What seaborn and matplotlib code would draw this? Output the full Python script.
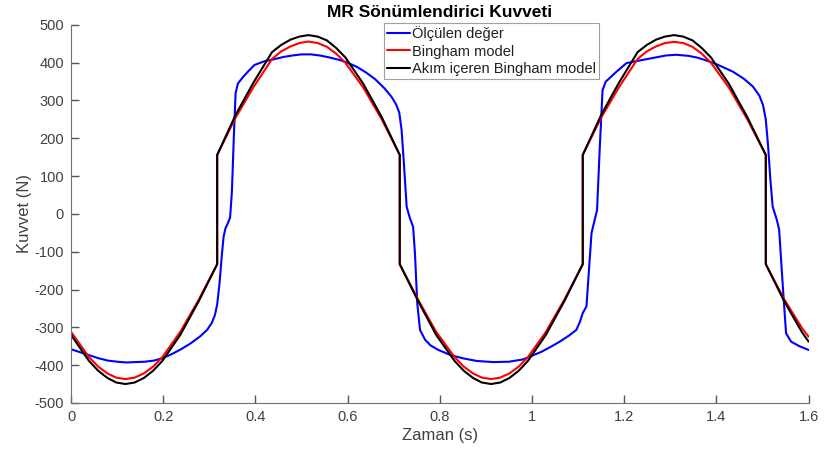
import matplotlib
matplotlib.use("Agg")
import matplotlib.pyplot as plt
import pandas as pd
import seaborn as sns
from matplotlib.ticker import FuncFormatter

# Bingham model curves (red) and current-dependent Bingham model (black)
t_model = [0.0, 0.039, 0.059, 0.079, 0.098, 0.118, 0.138, 0.158, 0.178, 0.198, 0.237, 0.277, 0.317,
           0.317, 0.357, 0.396, 0.436, 0.456, 0.476, 0.495, 0.515, 0.535, 0.555, 0.575, 0.595,
           0.634, 0.674, 0.713,
           0.713, 0.753, 0.792, 0.832, 0.852, 0.872, 0.891, 0.911, 0.931, 0.951, 0.971, 0.991,
           1.030, 1.070, 1.110,
           1.110, 1.150, 1.189, 1.229, 1.249, 1.269, 1.288, 1.308, 1.328, 1.348, 1.368, 1.388,
           1.427, 1.467, 1.507,
           1.507, 1.547, 1.586, 1.600]
f_bingham = [-312, -379, -404, -422, -433, -437, -433, -422, -404, -379, -312, -227, -133,
             156, 255, 336, 410, 430, 443, 452, 456, 452, 442, 424, 400,
             334, 250, 156,
             -133, -227, -312, -379, -404, -422, -433, -437, -433, -422, -404, -379,
             -312, -227, -133,
             156, 255, 336, 410, 430, 443, 452, 455, 452, 442, 424, 400,
             334, 250, 156,
             -133, -226, -303, -325]
f_bingham_akim = [-320, -389, -415, -434, -446, -450, -446, -434, -415, -389, -320, -231, -133,
                  156, 262, 348, 428, 447, 461, 469, 473, 469, 459, 439, 414,
                  344, 256, 156,
                  -133, -231, -320, -389, -415, -434, -446, -450, -446, -434, -415, -389,
                  -320, -231, -133,
                  156, 262, 348, 428, 447, 461, 469, 473, 469, 459, 439, 414,
                  344, 256, 156,
                  -133, -231, -314, -338]

# measured force (blue)
t_meas = [0.000, 0.020, 0.040, 0.060, 0.080, 0.100, 0.120, 0.140, 0.160, 0.180,
          0.200, 0.220, 0.240, 0.260, 0.280, 0.295, 0.305, 0.312, 0.317, 0.322,
          0.327, 0.331, 0.335, 0.340, 0.345, 0.349, 0.353, 0.357, 0.362, 0.373,
          0.385, 0.398, 0.420, 0.440, 0.460, 0.480, 0.500, 0.520, 0.540, 0.560,
          0.580, 0.600, 0.620, 0.640, 0.660, 0.680, 0.695, 0.705, 0.712, 0.717,
          0.722, 0.728, 0.735, 0.742, 0.746, 0.751, 0.757, 0.768, 0.780, 0.797,
          0.822, 0.850, 0.880, 0.916, 0.950, 0.980, 1.000, 1.020, 1.040, 1.060,
          1.080, 1.096, 1.104, 1.110, 1.118, 1.123, 1.129, 1.134, 1.141, 1.147,
          1.153, 1.160, 1.183, 1.205, 1.230, 1.260, 1.290, 1.313, 1.340, 1.360,
          1.380, 1.400, 1.420, 1.436, 1.460, 1.479, 1.493, 1.501, 1.507, 1.512,
          1.517, 1.522, 1.531, 1.536, 1.544, 1.551, 1.562, 1.580, 1.600]
f_meas = [-358, -366, -374, -382, -388, -391, -393, -392, -391, -388,
          -381, -370, -357, -342, -324, -307, -289, -268, -240, -185,
          -110, -60, -38, -25, -10, 60, 200, 320, 345, 362,
          378, 394, 404, 409, 415, 419, 422, 422, 419, 414,
          408, 400, 389, 374, 356, 332, 310, 290, 268, 222,
          134, 19, -11, -34, -104, -236, -307, -333, -348, -360,
          -373, -382, -389, -392, -391, -385, -375, -365, -352, -338,
          -322, -307, -285, -262, -245, -157, -51, -25, 10, 178,
          328, 350, 376, 399, 405, 412, 419, 421, 418, 413,
          405, 396, 385, 376, 357, 337, 313, 288, 250, 180,
          90, 19, -16, -42, -192, -316, -338, -350, -360]

labels = ["Ölçülen değer", "Bingham model", "Akım içeren Bingham model"]
colors = ["#0000FF", "#FF0000", "#000000"]

sns.set_style("ticks")
plt.rcParams["font.family"] = ["Liberation Sans", "DejaVu Sans"]
plt.rcParams["axes.unicode_minus"] = False

fig = plt.figure(figsize=(8.26, 4.61), dpi=100)
ax = fig.add_axes([0.086, 0.126, 0.893, 0.82])

sns.lineplot(x=t_meas, y=f_meas, ax=ax, color=colors[0], lw=1.5,
             sort=False, estimator=None, label=labels[0])
sns.lineplot(x=t_model, y=f_bingham, ax=ax, color=colors[1], lw=1.5,
             sort=False, estimator=None, label=labels[1])
sns.lineplot(x=t_model, y=f_bingham_akim, ax=ax, color=colors[2], lw=1.5,
             sort=False, estimator=None, label=labels[2])

ax.set_xlim(0, 1.6)
ax.set_ylim(-500, 500)
ax.set_xticks([0, 0.2, 0.4, 0.6, 0.8, 1.0, 1.2, 1.4, 1.6])
ax.set_yticks(range(-500, 501, 100))
ax.xaxis.set_major_formatter(FuncFormatter(lambda v, p: "%g" % round(v, 2)))
ax.tick_params(axis="both", which="major", bottom=True, left=True,
               direction="in", length=6, width=1.0,
               color="#555555", labelcolor="#404040", labelsize=10.5, pad=5)

for side in ["top", "right"]:
    ax.spines[side].set_visible(False)
for side in ["left", "bottom"]:
    ax.spines[side].set_color("#707070")
    ax.spines[side].set_linewidth(0.8)

ax.set_xlabel("Zaman (s)", fontsize=12, color="#404040", labelpad=3)
ax.set_ylabel("Kuvvet (N)", fontsize=12, color="#404040", labelpad=2)
ax.set_title("MR Sönümlendirici Kuvveti", fontsize=12.5, fontweight="bold",
             color="#000000", pad=6)

leg = ax.legend(loc="upper left", bbox_to_anchor=(0.424, 1.005),
                borderaxespad=0, fontsize=10.5, handlelength=1.6,
                handletextpad=0.15, labelspacing=0.25, borderpad=0.2,
                fancybox=False, framealpha=1, edgecolor="#A0A0A0")
leg.get_frame().set_linewidth(0.8)
for txt in leg.get_texts():
    txt.set_color("#202020")

fig.savefig("out.png", dpi=100)
